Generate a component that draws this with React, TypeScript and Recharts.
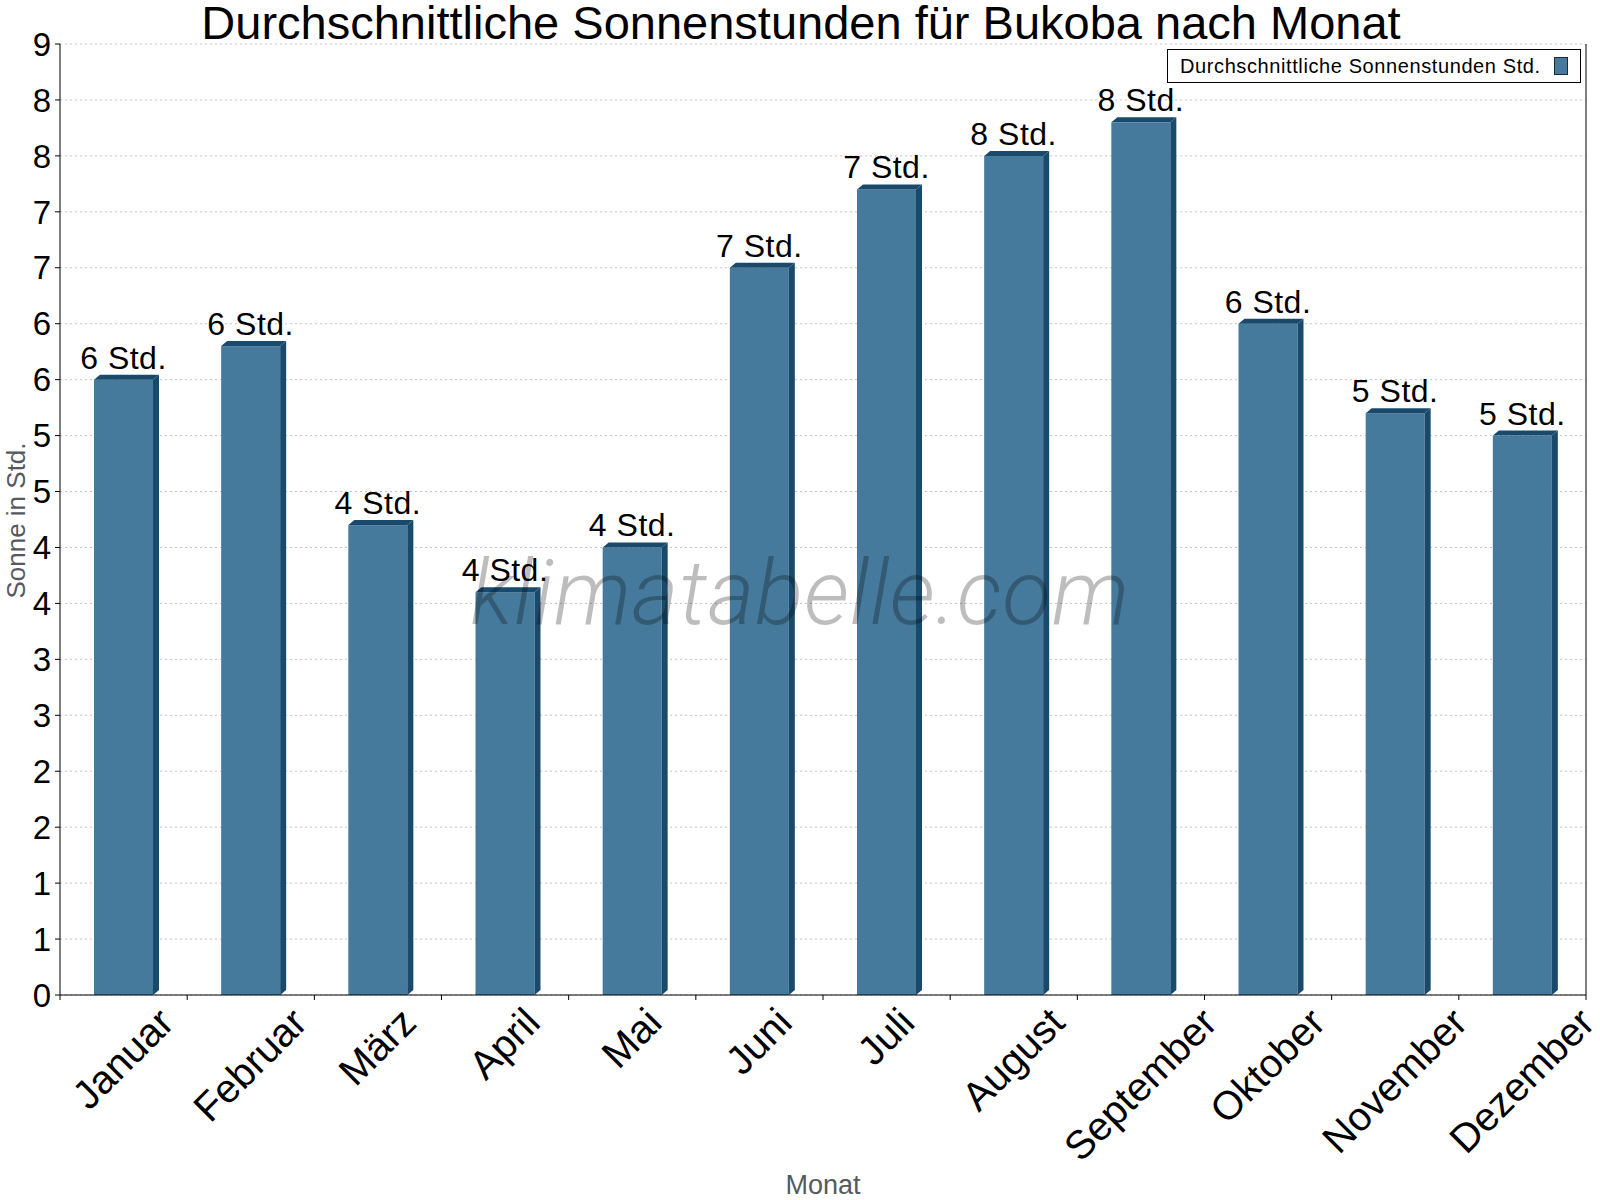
import React from 'react';
import { BarChart, Bar, XAxis, YAxis, CartesianGrid, Legend, LabelList } from 'recharts';

const months = ['Januar', 'Februar', 'März', 'April', 'Mai', 'Juni', 'Juli', 'August', 'September', 'Oktober', 'November', 'Dezember'];
const sunHours = [5.5, 5.8, 4.2, 3.6, 4.0, 6.5, 7.2, 7.5, 7.8, 6.0, 5.2, 5.0];
const yTicks = [0, 0.5, 1, 1.5, 2, 2.5, 3, 3.5, 4, 4.5, 5, 5.5, 6, 6.5, 7, 7.5, 8, 8.5];
const chartTitle = 'Durchschnittliche Sonnenstunden für Bukoba nach Monat';
const seriesName = 'Durchschnittliche Sonnenstunden Std.';
const unitLabel = 'Std.';
const yAxisTitle = 'Sonne in Std.';
const xAxisTitle = 'Monat';
const watermark = 'klimatabelle.com';

const data = months.map((m, i) => ({ month: m, sun: sunHours[i] }));

const FONT = '"Liberation Sans", Arial, sans-serif';
const FRONT = '#467a9c';
const DARK = '#1a4a6b';
const XFONT = 40;

let measureCtx: CanvasRenderingContext2D | null = null;
function measure(text: string, font: string): number {
  if (!measureCtx) {
    const c = document.createElement('canvas');
    measureCtx = c.getContext('2d');
  }
  if (!measureCtx) return text.length * 20;
  measureCtx.font = font;
  return measureCtx.measureText(text).width;
}

const Bar3D = (props: any) => {
  const { x, y, width, height } = props;
  if (width == null || height == null) return null;
  const dx = 6;
  const dy = 5;
  return (
    <g>
      <rect x={x} y={y} width={width} height={height} fill={FRONT} />
      <path d={`M${x + width},${y} L${x + width + dx},${y - dy} L${x + width + dx},${y + height - dy} L${x + width},${y + height} Z`} fill={DARK} />
      <path d={`M${x},${y} L${x + dx},${y - dy} L${x + width + dx},${y - dy} L${x + width},${y} Z`} fill={DARK} />
    </g>
  );
};

const ValueLabel = (props: any) => {
  const { x, y, width, value } = props;
  return (
    <text x={x + width / 2} y={y - 11} textAnchor="middle" fontSize={32} fontFamily={FONT} fill="#000" letterSpacing={0.5}>
      {`${Math.round(value)} ${unitLabel}`}
    </text>
  );
};

const MonthTick = (props: any) => {
  const { x, y, payload, index, visibleTicksCount } = props;
  const label = String(payload.value);
  const L = measure(label, `${XFONT}px "Liberation Sans"`);
  const ex = x + 9 + (0.7071 * L) / 2;
  const ey = y + 30;
  const half = payload.offset ?? 0;
  return (
    <g>
      <line x1={x - half} x2={x - half} y1={y} y2={y + 5} stroke="#000" />
      {index === (visibleTicksCount ?? 12) - 1 && (
        <line x1={x + half} x2={x + half} y1={y} y2={y + 5} stroke="#000" />
      )}
      <text x={ex} y={ey} textAnchor="end" transform={`rotate(-45, ${ex}, ${ey})`} fontSize={XFONT} fontFamily={FONT} fill="#000">
        {label}
      </text>
    </g>
  );
};

const YTitle = (props: any) => {
  const vb = props.viewBox || { x: 0, y: 44, width: 60, height: 951 };
  const cx = vb.x + 25;
  const cy = vb.y + vb.height / 2 + 1;
  return (
    <text x={cx} y={cy} textAnchor="middle" transform={`rotate(-90, ${cx}, ${cy})`} fontSize={26} fontFamily={FONT} fill="#555a60">
      {yAxisTitle}
    </text>
  );
};

const XTitle = (props: any) => {
  const vb = props.viewBox || { x: 60, y: 995, width: 1526, height: 205 };
  return (
    <text x={vb.x + vb.width / 2} y={vb.y + 199} textAnchor="middle" fontSize={27} fontFamily={FONT} fill="#555a60">
      {xAxisTitle}
    </text>
  );
};

const LegendBox = () => (
  <svg width={414} height={34} style={{ display: 'block' }}>
    <rect x={0.5} y={0.5} width={413} height={33} fill="#fff" stroke="#000" />
    <text x={13} y={23.7} fontSize={20} fontFamily={FONT} fill="#000" letterSpacing={0.6}>
      {seriesName}
    </text>
    <rect x={387.5} y={8.5} width={13} height={17} fill={FRONT} stroke="#1b2b3b" />
  </svg>
);

export default function App() {
  return (
    <div style={{ position: 'absolute', left: 0, top: 0, width: 1600, height: 1200, background: '#fff' }}>
      <BarChart width={1600} height={1200} data={data} margin={{ top: 44, right: 13, bottom: 0, left: 0 }}>
        <CartesianGrid vertical={false} stroke="#c4c4c4" strokeDasharray="2 3" />
        <XAxis
          dataKey="month"
          height={205}
          interval={0}
          tickSize={0}
          tickMargin={0}
          tickLine={false}
          axisLine={{ stroke: '#000' }}
          tick={<MonthTick />}
          label={<XTitle />}
        />
        <YAxis
          width={60}
          domain={[0, 8.5]}
          ticks={yTicks}
          interval={0}
          allowDataOverflow
          tickSize={5}
          tickMargin={4}
          tickFormatter={(v: number) => String(Math.round(v))}
          tick={{ fontSize: 33, fill: '#000', fontFamily: FONT }}
          tickLine={{ stroke: '#000' }}
          axisLine={{ stroke: '#000' }}
          label={<YTitle />}
        />
        <YAxis
          yAxisId="right"
          orientation="right"
          width={1}
          domain={[0, 8.5]}
          ticks={yTicks}
          tick={false}
          tickLine={false}
          axisLine={{ stroke: '#000' }}
        />
        <Legend
          layout="vertical"
          align="center"
          verticalAlign="middle"
          wrapperStyle={{ position: 'absolute', left: 1167, top: 49, width: 414, height: 34 }}
          content={() => <LegendBox />}
        />
        <Bar dataKey="sun" name={seriesName} barSize={59} fill={FRONT} isAnimationActive={false} shape={(p: any) => <Bar3D {...p} />}>
          <LabelList dataKey="sun" content={(p: any) => <ValueLabel {...p} />} />
        </Bar>
      </BarChart>
      <svg width={1600} height={1200} style={{ position: 'absolute', left: 0, top: 0, pointerEvents: 'none' }}>
        <text x={801} y={39} textAnchor="middle" fontSize={47} fontFamily={FONT} fill="#000">
          {chartTitle}
        </text>
        <text x={800} y={624} textAnchor="middle" fontSize={90} fontFamily="Roboto, sans-serif" fontWeight={300} fontStyle="italic" fill="#000" fillOpacity={0.26} letterSpacing={0.5}>
          {watermark}
        </text>
      </svg>
    </div>
  );
}
